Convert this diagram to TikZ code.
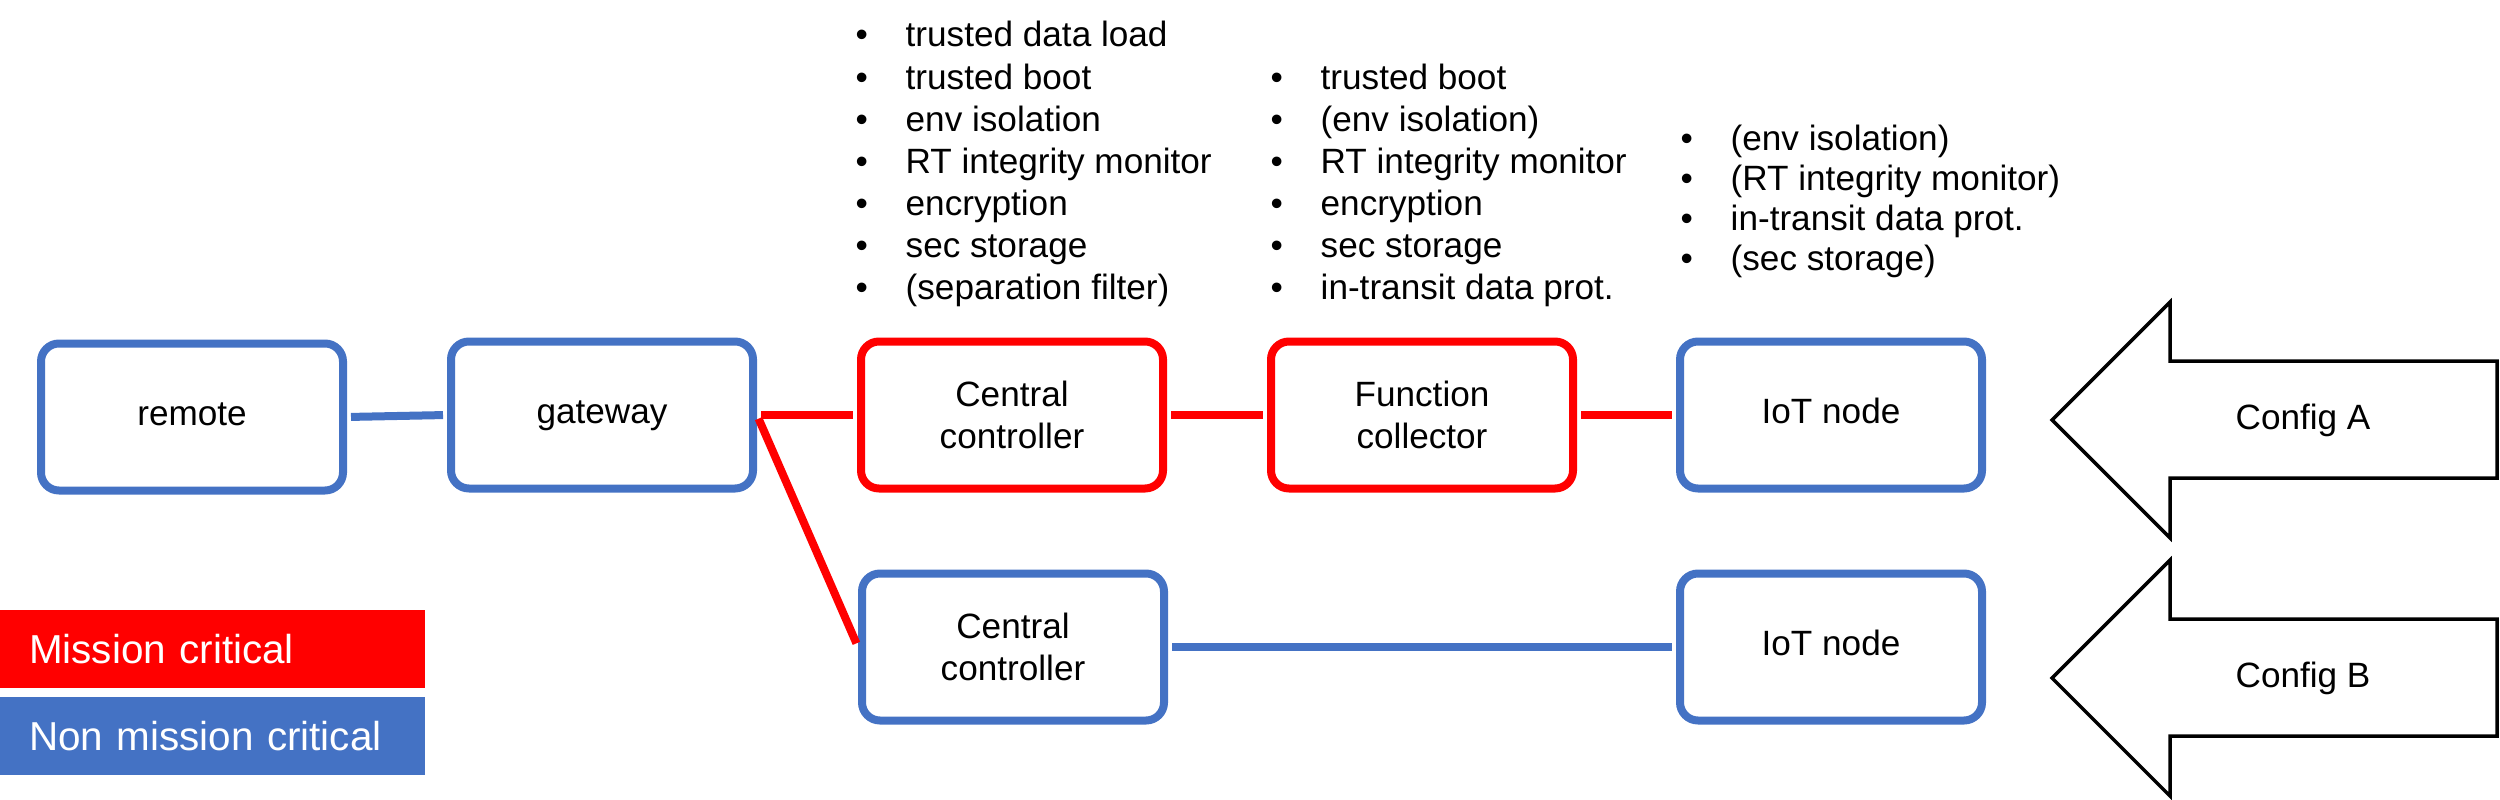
\documentclass[tikz,border=0pt]{standalone}
\usepackage{fontspec}
\setmainfont{Liberation Sans}
\definecolor{mcred}{RGB}{255,0,0}
\definecolor{nmcblue}{RGB}{68,114,196}
\newcommand{\itm}[1]{\makebox[0.5cm][l]{\textbullet}#1}
\begin{document}
\begin{tikzpicture}
            \tikzstyle{blk}=[draw,rounded corners=0.18cm,line width=0.08cm,minimum width=3.02cm,minimum height=1.47cm,align=center,fill=white,font=\fontsize{10}{12}\selectfont]
            \tikzstyle{redblk}=[blk,draw=mcred]
            \tikzstyle{blueblk}=[blk,draw=nmcblue]
            \tikzstyle{oneline}=[text height=0.72em,text depth=0.21em]
            \tikzstyle{wire}=[line width=0.08cm,shorten <=0.04cm,shorten >=0.04cm]
            \tikzstyle{lst}=[inner sep=0,align=left,font=\fontsize{10}{12}\selectfont]
            \tikzstyle{cfgarrow}=[draw,line width=0.035cm,line join=miter]
            \tikzstyle{legend}=[text width=3.67cm,inner xsep=0.29cm,minimum height=0.78cm,align=left,text=white,font=\fontsize{11.5}{13.8}\selectfont]

            \useasboundingbox (0,0) rectangle (25,7.99);

            %config_a
            \node[blueblk,oneline] (remote) at (1.92,3.82) {remote};
            \node[blueblk,oneline] (gateway) at (6.02,3.84) {gateway};
            \node[redblk] (ccA) at (10.12,3.84) {Central\\controller};
            \node[redblk] (fcA) at (14.22,3.84) {Function\\collector};
            \node[blueblk,oneline] (iotA) at (18.31,3.84) {IoT node};

            %config_b
            \node[blueblk] (ccB) at (10.13,1.52) {Central\\controller};
            \node[blueblk,oneline] (iotB) at (18.31,1.52) {IoT node};

            \draw[wire,nmcblue] (remote.east)--(gateway.west);
            \draw[wire,mcred] (gateway.east)--(ccA.west);
            \draw[wire,mcred] (ccA.east)--(fcA.west);
            \draw[wire,mcred] (fcA.east)--(iotA.west);
            \draw[wire,mcred] (gateway.east)--(ccB.west);
            \draw[wire,nmcblue] (ccB.east)--(iotB.west);

            %security_features (anchored at the last line)
            \node[lst,anchor=base west] (secCC) at (8.55,4.99) {\itm{trusted data load}\\\itm{trusted boot}\\\itm{env isolation}\\\itm{RT integrity monitor}\\\itm{encryption}\\\itm{sec storage}\\\itm{(separation filter)}};
            \node[lst,anchor=base west] (secFC) at (12.70,4.99) {\itm{trusted boot}\\\itm{(env isolation)}\\\itm{RT integrity monitor}\\\itm{encryption}\\\itm{sec storage}\\\itm{in-transit data prot.}};
            \node[lst,anchor=base west,font=\fontsize{10}{11.3}\selectfont] (secIoT) at (16.80,5.29) {\itm{(env isolation)}\\\itm{(RT integrity monitor)}\\\itm{in-transit data prot.}\\\itm{(sec storage)}};

            \foreach \y/\nm/\lab in {3.79/cfgA/Config A,1.21/cfgB/Config B}
            {
                \draw[cfgarrow] (20.52,\y)--++(1.18,1.18)--++(0,-0.59)--++(3.27,0)--++(0,-1.17)--++(-3.27,0)--++(0,-0.6)--cycle;
                \node[font=\fontsize{10}{12}\selectfont] (\nm) at (23.03,\y) {\lab};
            }

            %legend
            \node[legend,fill=mcred] (mc) at (2.125,1.50) {Mission critical};
            \node[legend,fill=nmcblue] (nmc) at (2.125,0.63) {Non mission critical};
\end{tikzpicture}
\end{document}
